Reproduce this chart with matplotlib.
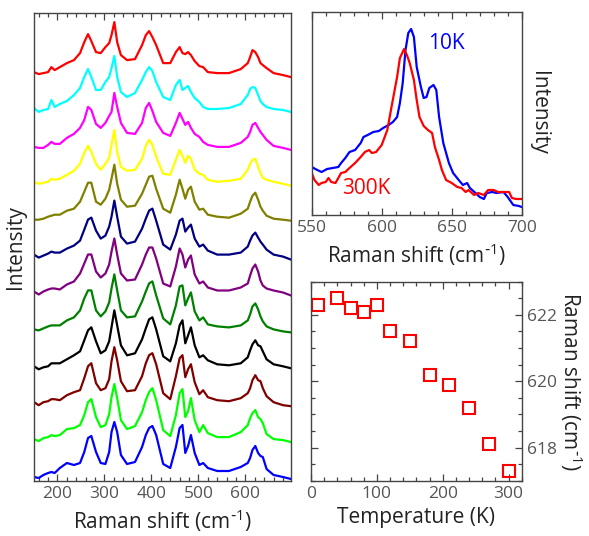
import matplotlib
matplotlib.use("Agg")
import matplotlib.pyplot as plt
from matplotlib.ticker import MultipleLocator

plt.rcParams['font.family'] = ['Open Sans', 'DejaVu Sans']
plt.rcParams['mathtext.default'] = 'regular'

# ---- left panel: spectra, top (300K) to bottom (10K), heights in a.u.
shift = [150, 160, 170, 180, 187, 194, 205, 220, 235, 248, 257, 265, 272, 282, 292, 302, 310, 315,
         321, 327, 335, 348, 365, 380, 388, 395, 402, 410, 425, 440, 452, 460, 466, 472, 478, 484,
         492, 502, 510, 520, 540, 565, 590, 605, 610, 615, 621, 627, 632, 637, 645, 660, 680, 697]

s_red = [0, -2, -1, 0, 5, 2, 5, 9, 12, 19, 30, 38, 31, 20, 19, 25, 29, 37, 50, 30, 17, 12, 13, 27, 37, 41, 35,
         27, 9, 9, 20, 25, 19, 18, 20, 17, 11, 6, 5, 0, -1, -1, 3, 9, 15, 22, 20, 15, 9, 7, 4, -1, -3, -5]
s_cyan = [1, -3, -1, 0, 9, 2, 5, 8, 14, 21, 32, 40, 32, 19, 19, 27, 32, 41, 53, 32, 17, 12, 16, 29, 37, 42, 38,
          27, 12, 9, 24, 29, 19, 21, 23, 17, 11, 7, 2, 0, 0, 1, 5, 14, 20, 22, 21, 14, 8, 5, 2, 0, -1, -3]
s_magenta = [-1, -2, -2, 1, 4, 2, 2, 8, 12, 18, 26, 39, 36, 22, 18, 23, 30, 34, 53, 39, 23, 13, 12, 23, 38, 43, 35,
             24, 13, 10, 23, 33, 27, 21, 24, 18, 12, 9, 4, 1, -1, -1, 3, 9, 14, 21, 23, 18, 14, 11, 6, 0, -2, -4]
s_yellow = [1, -1, 0, 1, 4, 3, 4, 8, 12, 19, 30, 37, 31, 19, 13, 19, 25, 38, 53, 31, 16, 12, 13, 24, 37, 43, 38,
            26, 9, 8, 23, 33, 27, 20, 27, 24, 13, 9, 8, 3, 1, 2, 4, 13, 19, 23, 24, 16, 10, 5, 3, 1, -1, -3]
s_olive = [0, 0, 1, 3, 4, 5, 5, 9, 11, 18, 28, 37, 37, 18, 15, 21, 30, 41, 55, 36, 20, 13, 14, 26, 35, 43, 44,
           31, 11, 7, 25, 40, 31, 21, 30, 33, 18, 10, 11, 5, 3, 2, 6, 11, 18, 24, 27, 20, 13, 9, 4, 1, 0, -1]
s_navy = [2, -1, 1, 3, 5, 4, 4, 8, 11, 16, 27, 37, 39, 26, 18, 21, 30, 40, 56, 40, 20, 13, 15, 28, 38, 46, 48,
          36, 12, 7, 22, 36, 38, 25, 29, 32, 18, 10, 12, 6, 2, 2, 4, 10, 16, 21, 24, 19, 15, 12, 7, 2, 0, -3]
s_purple = [2, -1, 2, 4, 5, 5, 4, 9, 12, 20, 30, 39, 39, 22, 16, 20, 29, 42, 55, 39, 20, 13, 14, 29, 39, 46, 46,
            35, 10, 7, 27, 45, 39, 26, 34, 38, 19, 10, 12, 6, 3, 3, 6, 10, 18, 25, 29, 22, 13, 8, 5, 3, 1, -2]
s_green = [1, 0, 2, 4, 5, 5, 5, 10, 13, 20, 32, 40, 40, 20, 14, 19, 28, 42, 56, 40, 20, 13, 14, 29, 39, 47, 49,
           35, 12, 6, 25, 44, 45, 25, 32, 38, 19, 10, 13, 6, 4, 3, 5, 10, 16, 24, 27, 21, 14, 9, 4, 1, -1, -2]
s_black = [1, -2, 0, 1, 4, 4, 4, 8, 12, 16, 27, 37, 40, 26, 14, 17, 26, 40, 57, 42, 22, 12, 14, 28, 39, 48, 50,
           38, 11, 6, 24, 42, 47, 24, 32, 40, 22, 10, 12, 7, 3, 2, 4, 10, 17, 23, 27, 22, 21, 16, 8, 3, 1, -1]
s_maroon = [2, -1, 2, 3, 5, 5, 4, 9, 12, 14, 26, 38, 41, 21, 14, 16, 25, 43, 57, 44, 23, 13, 14, 28, 41, 49, 51,
            40, 11, 5, 28, 46, 49, 27, 35, 40, 22, 10, 14, 7, 4, 3, 6, 11, 16, 24, 29, 24, 23, 16, 8, 2, -1, -2]
s_lime = [2, 0, 3, 4, 6, 5, 6, 12, 13, 16, 26, 39, 42, 24, 14, 16, 27, 44, 57, 43, 21, 12, 15, 29, 41, 49, 53,
          41, 11, 5, 26, 48, 52, 24, 30, 43, 21, 9, 16, 8, 4, 4, 9, 16, 23, 28, 31, 24, 22, 18, 7, 2, 1, -1]
s_blue = [1, 0, 3, 5, 6, 5, 10, 15, 13, 15, 26, 40, 42, 26, 15, 14, 26, 46, 56, 46, 23, 14, 16, 31, 43, 50, 52,
          43, 14, 10, 31, 50, 53, 25, 32, 43, 25, 13, 15, 10, 7, 7, 11, 15, 20, 28, 32, 25, 22, 21, 9, 3, 1, -1]

spectra = [s_red, s_cyan, s_magenta, s_yellow, s_olive, s_navy,
           s_purple, s_green, s_black, s_maroon, s_lime, s_blue]
colors = ['#ff0000', '#00ffff', '#ff00ff', '#ffff00', '#808000', '#000080',
          '#800080', '#008000', '#000000', '#800000', '#00ff00', '#0000ff']

# ---- top right: 620 cm-1 mode at 10K and 300K
x_10k = [550, 554, 557, 561, 565, 569, 571, 574, 577, 581, 585, 587, 590, 594, 598, 601, 605, 608, 611, 613,
         615, 617, 619, 621, 623, 625, 628, 630, 632, 634, 637, 639, 641, 644, 648, 651, 655, 658, 661, 663,
         667, 670, 673, 675, 679, 682, 687, 690, 694, 698, 700]
y_10k = [48, 45, 43, 46, 47, 48, 52, 57, 63, 65, 72, 78, 80, 83, 84, 87, 90, 93, 98, 112,
         132, 165, 182, 186, 178, 148, 128, 117, 118, 127, 130, 125, 98, 72, 52, 42, 35, 30, 32, 27,
         22, 18, 16, 22, 23, 22, 23, 18, 10, 9, 8]
x_300k = [550, 552, 555, 557, 560, 562, 564, 567, 569, 571, 574, 577, 581, 585, 588, 591, 593, 596, 600, 604,
          607, 611, 613, 616, 618, 620, 623, 625, 627, 630, 633, 636, 638, 641, 643, 646, 650, 654, 657, 660,
          662, 666, 669, 673, 676, 680, 683, 687, 691, 693, 696, 700]
y_300k = [42, 35, 30, 32, 33, 37, 33, 32, 37, 42, 43, 47, 52, 58, 63, 65, 62, 63, 70, 85,
          108, 138, 157, 166, 160, 152, 135, 115, 98, 89, 85, 82, 68, 55, 45, 35, 32, 28, 27, 23,
          25, 20, 22, 20, 25, 25, 23, 23, 23, 17, 16, 16]

# ---- bottom right: peak position vs temperature
temps = [10, 40, 60, 80, 100, 120, 150, 180, 210, 240, 270, 300]
peak = [622.3, 622.5, 622.2, 622.1, 622.3, 621.5, 621.2, 620.2, 619.9, 619.2, 618.1, 617.3]

tick_col = '#555555'
lab_col = '#222222'
spine_col = '#444444'
shift_label = r'Raman shift (cm$^{\text{-}1}$)'


def style(ax):
    for s in ax.spines.values():
        s.set_color(spine_col)
        s.set_linewidth(1.0)
    ax.tick_params(which='both', direction='in', colors=spine_col, labelcolor=tick_col,
                   labelsize=12.5, width=0.9)
    ax.tick_params(which='major', length=5)
    ax.tick_params(which='minor', length=2.8)


fig = plt.figure(figsize=(5.89, 5.36), dpi=100)

ax1 = fig.add_axes([34 / 589, 1 - 480.7 / 536, 257 / 589, 467.4 / 536])
step = 36.9
n = len(spectra)
for i, (s, c) in enumerate(zip(spectra, colors)):
    off = (n - 1 - i) * step
    ax1.plot(shift, [v + off for v in s], color=c, lw=1.6)
ax1.set_xlim(150, 697)
ax1.set_ylim(-2.7, 464.7)
ax1.set_yticks([])
ax1.xaxis.set_major_locator(MultipleLocator(100))
ax1.xaxis.set_minor_locator(MultipleLocator(20))
style(ax1)
ax1.tick_params(axis='x', which='both', top=True)
ax1.set_xticks([200, 300, 400, 500, 600])
ax1.set_xlabel(shift_label, fontsize=15, color=lab_col, labelpad=4)
ax1.set_ylabel('Intensity', fontsize=15, color=lab_col, labelpad=6)

ax2 = fig.add_axes([311.7 / 589, 1 - 215 / 536, 210 / 589, 203.3 / 536])
ax2.plot(x_10k, y_10k, color='#0000ff', lw=1.6)
ax2.plot(x_300k, y_300k, color='#ff0000', lw=1.6)
ax2.set_xlim(550, 700)
ax2.set_ylim(0, 203.3)
ax2.set_yticks([])
ax2.xaxis.set_major_locator(MultipleLocator(50))
ax2.xaxis.set_minor_locator(MultipleLocator(10))
style(ax2)
ax2.tick_params(axis='x', which='both', top=True)
ax2.text(633, 172, '10K', color='#0000ff', fontsize=15, va='center', ha='left')
ax2.text(572, 27, '300K', color='#ff0000', fontsize=15, va='center', ha='left')
ax2.set_xlabel(shift_label, fontsize=15, color=lab_col, labelpad=4)
ax2.yaxis.set_label_position('right')
ax2.set_ylabel('Intensity', fontsize=15, color=lab_col, rotation=270, labelpad=20)

ax3 = fig.add_axes([311 / 589, 1 - 480.7 / 536, 210.7 / 589, 199 / 536])
ax3.plot(temps, peak, 's', ms=9, mfc='none', mec='#ff0000', mew=1.5, clip_on=False)
ax3.set_xlim(0, 320)
ax3.set_ylim(617, 623)
ax3.xaxis.set_major_locator(MultipleLocator(100))
ax3.xaxis.set_minor_locator(MultipleLocator(20))
ax3.yaxis.set_major_locator(MultipleLocator(2))
ax3.yaxis.set_minor_locator(MultipleLocator(0.5))
style(ax3)
ax3.tick_params(which='both', top=True, right=True, left=True, labelleft=False, labelright=True)
ax3.set_xlabel('Temperature (K)', fontsize=15, color=lab_col, labelpad=4)
ax3.yaxis.set_label_position('right')
ax3.set_ylabel(shift_label, fontsize=15, color=lab_col, rotation=270, labelpad=20)

fig.savefig('out.png', dpi=100)
